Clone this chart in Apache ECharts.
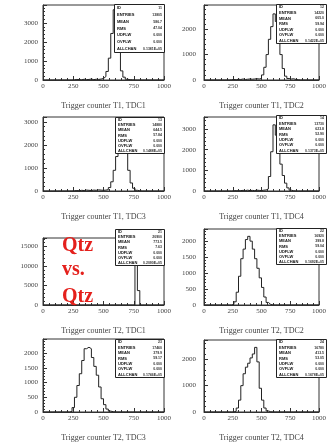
<!DOCTYPE html>
<html>
<head>
<meta charset="utf-8">
<script src="https://cdn.jsdelivr.net/npm/echarts@6/dist/echarts.min.js"></script>
<style>
  html, body { margin: 0; padding: 0; background: #fff; }
  #chart { width: 329px; height: 443px; }
</style>
</head>
<body>
<div id="chart"></div>
<script>
// TDC spectra of the trigger counters, 20-channel bins from 0 to 1000
const binWidth = 20;

const titles = [
  'Trigger counter T1, TDC1', 'Trigger counter T1, TDC2',
  'Trigger counter T1, TDC3', 'Trigger counter T1, TDC4',
  'Trigger counter T2, TDC1', 'Trigger counter T2, TDC2',
  'Trigger counter T2, TDC3', 'Trigger counter T2, TDC4'
];
const histIds = [11, 12, 13, 14, 21, 22, 23, 24];

const t1tdc1 = [0,0,0,0,0,0,0,0,0,0, 0,0,10,30,20,10,40,20,30,50, 20,40,30,50,80,180,450,1150,2450,3700, 3250,1500,480,150,40,15,10,0,0,0, 0,0,0,0,0,0,0,0,0,0];
const t1tdc2 = [0,0,0,0,0,0,0,0,0,0, 0,10,20,10,30,20,40,20,30,40, 30,40,50,40,60,200,500,1000,1600,2100, 2600,2300,1700,1000,450,150,60,40,50,20, 10,0,0,0,0,0,0,0,0,0];
const t1tdc3 = [0,0,0,0,0,0,0,0,0,0, 0,0,10,20,10,30,20,40,30,20, 40,30,50,40,30,40,60,150,400,900, 1500,2300,2900,2950,1900,900,350,120,30,10, 0,0,0,0,0,0,0,0,0,0];
const t1tdc4 = [0,0,0,0,0,0,0,0,0,0, 0,0,10,20,10,20,30,20,40,20, 30,20,40,30,20,40,50,100,700,1900, 3200,2700,2100,1300,750,380,150,40,10,0, 0,0,0,0,0,0,0,0,0,0];
const t2tdc1 = [0,0,0,0,0,0,0,0,0,0, 0,0,0,0,0,0,0,0,0,0, 0,0,0,0,0,0,0,0,0,0, 0,0,0,0,0,0,0,0,17200,3700, 0,0,0,0,0,0,0,0,0,0];
const t2tdc2 = [0,0,0,0,0,0,0,0,0,0, 0,0,20,100,400,900,1450,1750,2050,2150, 2000,1750,1450,1150,850,550,250,80,20,0, 0,0,0,0,0,0,0,0,0,0, 0,0,0,0,0,0,0,0,0,0];
const t2tdc3 = [0,0,0,0,0,0,0,0,0,0, 0,20,150,500,900,1300,1750,2150,2200,2150, 1850,1550,1250,850,450,250,100,30,10,0, 0,0,0,0,0,0,0,0,0,0, 0,0,0,0,0,0,0,0,0,0];
const t2tdc4 = [0,0,0,0,0,0,0,0,0,0, 0,0,0,30,150,450,1000,1450,1700,1850, 2050,2200,2450,1900,900,450,150,40,10,0, 0,0,0,0,0,0,0,0,0,0, 0,0,0,0,0,0,0,0,0,0];

const histograms = [t1tdc1, t1tdc2, t1tdc3, t1tdc4, t2tdc1, t2tdc2, t2tdc3, t2tdc4];

// vertical axis ranges and tick steps
const yMax  = [3950, 2950, 3220, 3580, 17200, 2380, 2480, 2730];
const yStep = [1000, 1000, 1000, 1000, 5000, 500, 500, 1000];
const xTickStep = 250;

// page layout: frame of each pad [left, top, width, height]
const pads = [
  [43, 5, 121, 75],   [204, 5, 122, 75],
  [43, 117, 121, 74], [204, 117, 122, 74],
  [43, 238, 121, 67], [204, 229, 122, 76],
  [43, 339, 121, 76], [204, 340, 122, 75]
];
// statistics boxes [left, top, right, bottom]
const statBoxes = [
  [114, 4, 164, 52],   [276, 4, 326, 43],
  [115, 117, 164, 153], [276, 115, 326, 153],
  [115, 229, 164, 265], [276, 228, 326, 264],
  [115, 339, 164, 377], [276, 339, 326, 377]
];

const serif = 'Liberation Serif';
const ink = '#333';
const plain = v => String(v);

function fmtExp(v) {
  if (v === 0) return '0.0000E+00';
  const e = Math.floor(Math.log10(v)) + 1;
  const m = v / Math.pow(10, e);
  return m.toFixed(4) + 'E' + (e >= 0 ? '+' : '-') + String(Math.abs(e)).padStart(2, '0');
}

function stats(counts) {
  let n = 0, s = 0, s2 = 0;
  counts.forEach((c, i) => {
    const xc = (i + 0.5) * binWidth;
    n += c; s += c * xc; s2 += c * xc * xc;
  });
  const mean = s / n;
  const rms = Math.sqrt(Math.max(s2 / n - mean * mean, 0));
  return { n, mean, rms };
}

const grid = [], xAxis = [], yAxis = [], series = [], graphic = [];

histograms.forEach((counts, k) => {
  const [l, t, w, h] = pads[k];
  grid.push({ left: l, top: t, width: w, height: h, show: true,
    borderColor: ink, borderWidth: 1, backgroundColor: 'transparent' });

  xAxis.push({
    gridIndex: k, type: 'value', min: 0, max: 1000, interval: xTickStep,
    name: titles[k], nameLocation: 'middle', nameGap: 22,
    nameTextStyle: { fontFamily: serif, fontSize: 8, color: '#444' },
    axisLine: { lineStyle: { color: ink, width: 1 } },
    axisTick: { inside: true, length: 4, lineStyle: { color: ink } },
    minorTick: { show: true, splitNumber: 5, length: 2, lineStyle: { color: ink } },
    axisLabel: { fontFamily: serif, fontSize: 7, color: '#444', margin: 3, formatter: plain },
    splitLine: { show: false }
  });

  yAxis.push({
    gridIndex: k, type: 'value', min: 0, max: yMax[k], interval: yStep[k],
    axisLine: { show: true, lineStyle: { color: ink, width: 1 } },
    axisTick: { show: true, inside: true, length: 4, lineStyle: { color: ink } },
    minorTick: { show: true, splitNumber: 5, length: 2, lineStyle: { color: ink } },
    axisLabel: { fontFamily: serif, fontSize: 7, color: '#444',
      margin: (k % 2 === 0) ? 5 : 8, showMaxLabel: false, formatter: plain },
    splitLine: { show: false }
  });

  const pts = counts.map((c, i) => [i * binWidth, c]);
  pts.push([counts.length * binWidth, 0]);
  series.push({
    type: 'line', xAxisIndex: k, yAxisIndex: k, data: pts, step: 'end',
    symbol: 'none', clip: true,
    lineStyle: { color: '#222', width: 1 }
  });

  // statistics box
  const [bx0, by0, bx1, by1] = statBoxes[k];
  graphic.push({
    type: 'rect', z: 100,
    shape: { x: bx0 + 0.5, y: by0 + 0.5, width: bx1 - bx0, height: by1 - by0 },
    style: { fill: '#fff', stroke: '#222', lineWidth: 1 }
  });
  const st = stats(counts);
  const rows = [
    ['ID', String(histIds[k])],
    ['ENTRIES', String(Math.round(st.n))],
    ['MEAN', st.mean.toFixed(1)],
    ['RMS', st.rms.toFixed(2)],
    ['UDFLW', '0.000'],
    ['OVFLW', '0.000'],
    ['ALLCHAN', fmtExp(st.n)]
  ];
  const rh = (by1 - by0) / rows.length;
  rows.forEach((r, i) => {
    const yy = by0 + rh * (i + 0.5) + 0.5;
    graphic.push({ type: 'text', z: 101, x: bx0 + 3, y: yy,
      style: { text: r[0], fontFamily: 'Liberation Sans', fontWeight: 'bold',
        fontSize: 4, fill: '#111', align: 'left', verticalAlign: 'middle' } });
    graphic.push({ type: 'text', z: 101, x: bx1 - 2, y: yy,
      style: { text: r[1], fontFamily: 'Liberation Sans', fontWeight: 'bold',
        fontSize: 3.5, fill: '#333', align: 'right', verticalAlign: 'middle' } });
  });
});

// red annotation on the T2, TDC1 pad
[['Qtz', 246], ['vs.', 270], ['Qtz', 297]].forEach(([txt, yy]) => {
  graphic.push({ type: 'text', z: 120, x: 62, y: yy,
    style: { text: txt, fontFamily: serif, fontWeight: 'bold', fontSize: 20,
      fill: '#e4201c', align: 'left', verticalAlign: 'middle' } });
});

const chart = echarts.init(document.getElementById('chart'), null, { renderer: 'canvas' });
chart.setOption({
  animation: false,
  backgroundColor: '#fff',
  grid, xAxis, yAxis, series, graphic
});
</script>
</body>
</html>
